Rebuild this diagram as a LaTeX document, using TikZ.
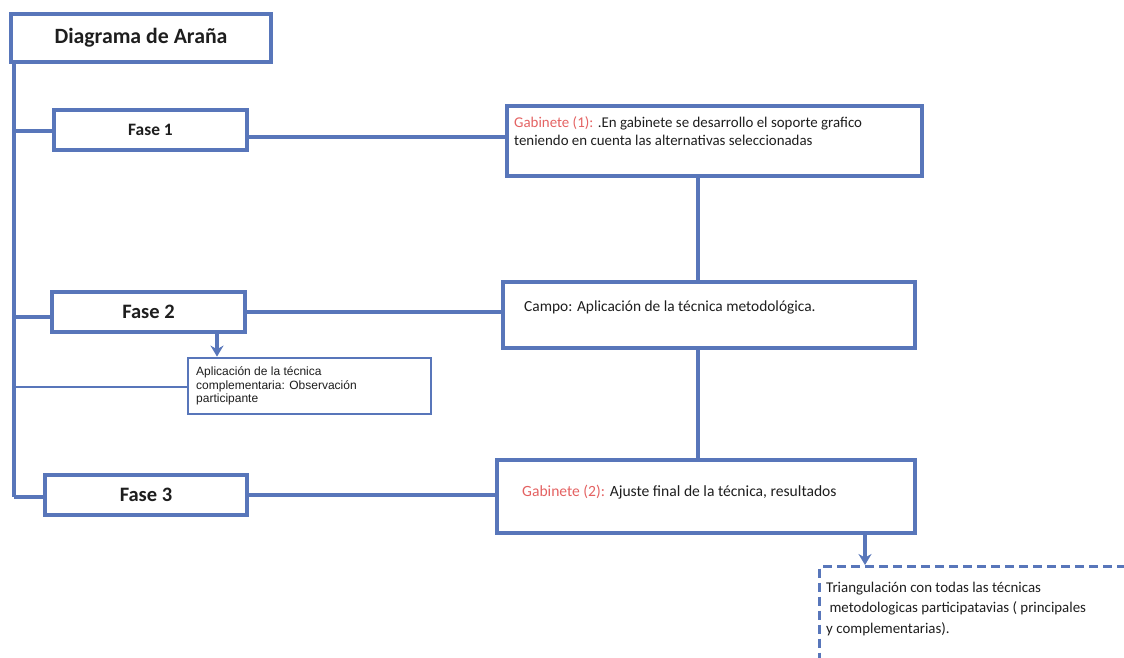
\documentclass[tikz,border=0pt]{standalone}
\usepackage{fontspec}
\setmainfont{Carlito}
\newfontfamily\arialf{Liberation Sans}
\usetikzlibrary{arrows.meta}
\definecolor{lineblue}{RGB}{88,118,186}
\definecolor{gabred}{RGB}{228,98,98}
\definecolor{txt}{RGB}{30,30,30}
\tikzset{
  box/.style={draw=lineblue, line width=3.4pt, fill=white, rectangle, inner sep=0pt},
  conn/.style={draw=lineblue, line width=3.3pt},
  thinconn/.style={draw=lineblue, line width=1.8pt},
  arr/.style={draw=lineblue, line width=3.3pt, -{Stealth[length=11pt,width=13pt]}},
  lbl/.style={text=txt, inner sep=0pt, anchor=west, align=left},
}
\begin{document}
\begin{tikzpicture}[x=1pt,y=-1pt]
\useasboundingbox (0,0) rectangle (1124,657);
\clip (0,0) rectangle (1124,657);
% spine coordinates
\coordinate (s0) at (14,62);
\coordinate (s1) at (14,131);
\coordinate (s2) at (14,317);
\coordinate (sa) at (14,387);
\coordinate (s3) at (14,497);
\draw[conn] (s0) -- (s3);
% boxes
\node[box, minimum width=260pt, minimum height=48pt, font=\bfseries\fontsize{21.8}{26}\selectfont, text=txt] (title) at (141,38) {Diagrama de Araña};
\node[box, minimum width=193pt, minimum height=40pt, font=\bfseries\fontsize{17.4}{20}\selectfont, text=txt] (f1) at (150.5,130) {Fase 1};
\node[box, minimum width=193pt, minimum height=40pt, font=\bfseries\fontsize{20.5}{24}\selectfont, text=txt] (f2) at (148.5,312) {Fase 2};
\node[box, minimum width=202pt, minimum height=40pt, font=\bfseries\fontsize{20.5}{24}\selectfont, text=txt] (f3) at (146,495) {Fase 3};
\node[box, minimum width=415pt, minimum height=70pt] (g1) at (714.5,141) {};
\node[box, minimum width=412pt, minimum height=66pt] (campo) at (709,315) {};
\node[box, minimum width=418pt, minimum height=73pt] (g2) at (706,496.5) {};
\node[box, line width=2.8pt, minimum width=243pt, minimum height=56pt] (apl) at (309.5,386) {};
\node[draw=lineblue, line width=3.2pt, dash pattern=on 9pt off 5pt, rectangle, minimum width=340pt, minimum height=200pt, anchor=north west, inner sep=0pt] (tri) at (818,565) {};
% connectors
\draw[conn] (s1) -- (s1 -| f1.west);
\draw[conn] (s2) -- (s2 -| f2.west);
\draw[thinconn] (sa) -- (sa -| apl.west);
\draw[conn] (s3) -- (s3 -| f3.west);
\coordinate (c1) at (0,137);
\coordinate (c2) at (0,312);
\coordinate (c3) at (0,495);
\draw[conn] (c1 -| f1.east) -- (c1 -| g1.west);
\draw[conn] (c2 -| f2.east) -- (c2 -| campo.west);
\draw[conn] (c3 -| f3.east) -- (c3 -| g2.west);
\coordinate (v1) at (698,0);
\draw[conn] (v1 |- g1.south) -- (v1 |- campo.north);
\draw[conn] (v1 |- campo.south) -- (v1 |- g2.north);
\coordinate (a1) at (217,0);
\draw[arr] (a1 |- f2.south) -- (a1 |- apl.north);
\coordinate (a2) at (865,0);
\draw[arr] (a2 |- g2.south) -- (a2 |- tri.north);
% texts
\node[lbl, font=\fontsize{14.9}{18.5}\selectfont] (g1t) at (514,131) {\textcolor{gabred}{Gabinete (1):} .En gabinete se desarrollo el soporte grafico\\teniendo en cuenta las alternativas seleccionadas};
\node[lbl, font=\fontsize{15.4}{18}\selectfont] (campot) at (524,307) {Campo: Aplicación de la técnica metodológica.};
\node[lbl, font=\fontsize{15.6}{18}\selectfont] (g2t) at (522,492) {\textcolor{gabred}{Gabinete (2):} Ajuste final de la técnica, resultados};
\node[lbl, font=\arialf\fontsize{12}{13.5}\selectfont] (aplt) at (196,386) {Aplicación de la técnica\\complementaria: Observación\\participante};
\node[lbl, font=\fontsize{14.9}{20.5}\selectfont] (trit) at (826,609) {Triangulación con todas las técnicas\\\ metodologicas participatavias ( principales\\y complementarias).};
\end{tikzpicture}
\end{document}
